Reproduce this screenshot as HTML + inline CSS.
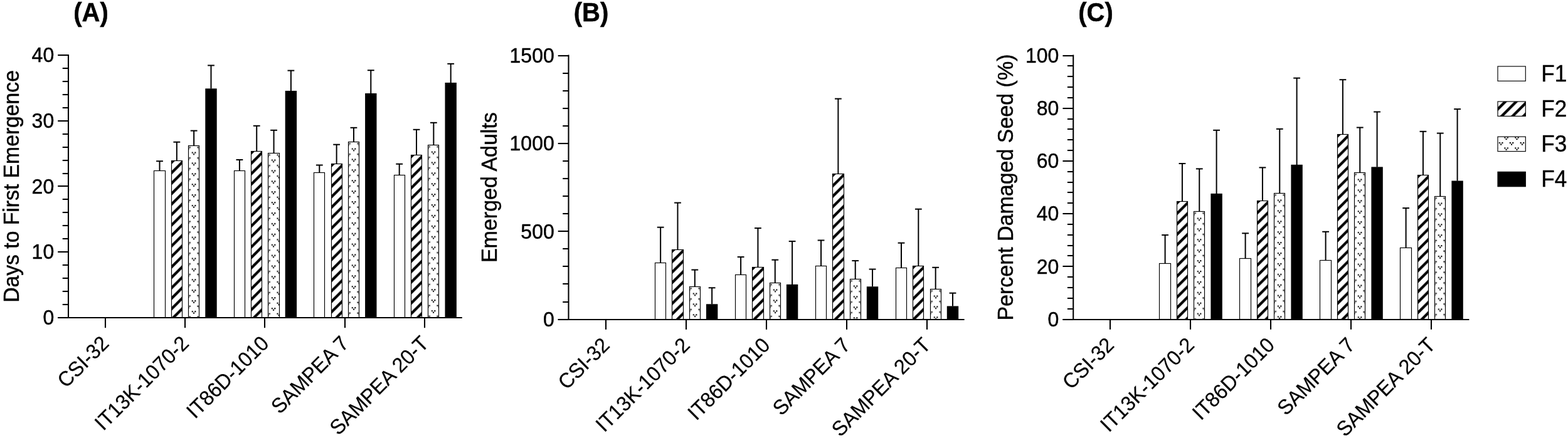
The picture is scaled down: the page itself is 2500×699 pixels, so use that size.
<!DOCTYPE html>
<html><head><meta charset="utf-8"><title>Figure</title>
<style>html,body{margin:0;padding:0;background:#fff;}body{width:2500px;height:699px;overflow:hidden;}svg{display:block;}</style>
</head><body>
<svg width="2500" height="699" viewBox="0 0 2500 699"><defs><pattern id="h1" patternUnits="userSpaceOnUse" x="273" y="256" width="16.7" height="16.7"><polygon points="24,-40 30,-40 -50,40 -56,40"/><polygon points="40.7,-40 46.7,-40 -33.3,40 -39.3,40"/><polygon points="57.4,-40 63.4,-40 -16.6,40 -22.6,40"/><polygon points="74.1,-40 80.1,-40 0.1,40 -5.9,40"/></pattern><pattern id="d2" patternUnits="userSpaceOnUse" x="300.5" y="232.5" width="17.2" height="16.9"><rect x="-3.25" y="1.65" width="2.1" height="2.1"/><rect x="1.15" y="1.65" width="2.1" height="2.1"/><rect x="-1.05" y="4.15" width="2.1" height="2.1"/><rect x="-3.25" y="18.55" width="2.1" height="2.1"/><rect x="1.15" y="18.55" width="2.1" height="2.1"/><rect x="-1.05" y="21.05" width="2.1" height="2.1"/><rect x="13.95" y="1.65" width="2.1" height="2.1"/><rect x="18.35" y="1.65" width="2.1" height="2.1"/><rect x="16.15" y="4.15" width="2.1" height="2.1"/><rect x="13.95" y="18.55" width="2.1" height="2.1"/><rect x="18.35" y="18.55" width="2.1" height="2.1"/><rect x="16.15" y="21.05" width="2.1" height="2.1"/><rect x="5.35" y="10.1" width="2.1" height="2.1"/><rect x="9.75" y="10.1" width="2.1" height="2.1"/><rect x="7.55" y="12.6" width="2.1" height="2.1"/><rect x="5.35" y="-6.8" width="2.1" height="2.1"/><rect x="9.75" y="-6.8" width="2.1" height="2.1"/><rect x="7.55" y="-4.3" width="2.1" height="2.1"/></pattern><pattern id="h3" patternUnits="userSpaceOnUse" x="400" y="241" width="16.7" height="16.7"><polygon points="24,-40 30,-40 -50,40 -56,40"/><polygon points="40.7,-40 46.7,-40 -33.3,40 -39.3,40"/><polygon points="57.4,-40 63.4,-40 -16.6,40 -22.6,40"/><polygon points="74.1,-40 80.1,-40 0.1,40 -5.9,40"/></pattern><pattern id="d4" patternUnits="userSpaceOnUse" x="427.5" y="244.5" width="17.2" height="16.9"><rect x="-3.25" y="1.65" width="2.1" height="2.1"/><rect x="1.15" y="1.65" width="2.1" height="2.1"/><rect x="-1.05" y="4.15" width="2.1" height="2.1"/><rect x="-3.25" y="18.55" width="2.1" height="2.1"/><rect x="1.15" y="18.55" width="2.1" height="2.1"/><rect x="-1.05" y="21.05" width="2.1" height="2.1"/><rect x="13.95" y="1.65" width="2.1" height="2.1"/><rect x="18.35" y="1.65" width="2.1" height="2.1"/><rect x="16.15" y="4.15" width="2.1" height="2.1"/><rect x="13.95" y="18.55" width="2.1" height="2.1"/><rect x="18.35" y="18.55" width="2.1" height="2.1"/><rect x="16.15" y="21.05" width="2.1" height="2.1"/><rect x="5.35" y="10.1" width="2.1" height="2.1"/><rect x="9.75" y="10.1" width="2.1" height="2.1"/><rect x="7.55" y="12.6" width="2.1" height="2.1"/><rect x="5.35" y="-6.8" width="2.1" height="2.1"/><rect x="9.75" y="-6.8" width="2.1" height="2.1"/><rect x="7.55" y="-4.3" width="2.1" height="2.1"/></pattern><pattern id="h5" patternUnits="userSpaceOnUse" x="528" y="261" width="16.7" height="16.7"><polygon points="24,-40 30,-40 -50,40 -56,40"/><polygon points="40.7,-40 46.7,-40 -33.3,40 -39.3,40"/><polygon points="57.4,-40 63.4,-40 -16.6,40 -22.6,40"/><polygon points="74.1,-40 80.1,-40 0.1,40 -5.9,40"/></pattern><pattern id="d6" patternUnits="userSpaceOnUse" x="555.5" y="226.5" width="17.2" height="16.9"><rect x="-3.25" y="1.65" width="2.1" height="2.1"/><rect x="1.15" y="1.65" width="2.1" height="2.1"/><rect x="-1.05" y="4.15" width="2.1" height="2.1"/><rect x="-3.25" y="18.55" width="2.1" height="2.1"/><rect x="1.15" y="18.55" width="2.1" height="2.1"/><rect x="-1.05" y="21.05" width="2.1" height="2.1"/><rect x="13.95" y="1.65" width="2.1" height="2.1"/><rect x="18.35" y="1.65" width="2.1" height="2.1"/><rect x="16.15" y="4.15" width="2.1" height="2.1"/><rect x="13.95" y="18.55" width="2.1" height="2.1"/><rect x="18.35" y="18.55" width="2.1" height="2.1"/><rect x="16.15" y="21.05" width="2.1" height="2.1"/><rect x="5.35" y="10.1" width="2.1" height="2.1"/><rect x="9.75" y="10.1" width="2.1" height="2.1"/><rect x="7.55" y="12.6" width="2.1" height="2.1"/><rect x="5.35" y="-6.8" width="2.1" height="2.1"/><rect x="9.75" y="-6.8" width="2.1" height="2.1"/><rect x="7.55" y="-4.3" width="2.1" height="2.1"/></pattern><pattern id="h7" patternUnits="userSpaceOnUse" x="655" y="247" width="16.7" height="16.7"><polygon points="24,-40 30,-40 -50,40 -56,40"/><polygon points="40.7,-40 46.7,-40 -33.3,40 -39.3,40"/><polygon points="57.4,-40 63.4,-40 -16.6,40 -22.6,40"/><polygon points="74.1,-40 80.1,-40 0.1,40 -5.9,40"/></pattern><pattern id="d8" patternUnits="userSpaceOnUse" x="682.5" y="231.5" width="17.2" height="16.9"><rect x="-3.25" y="1.65" width="2.1" height="2.1"/><rect x="1.15" y="1.65" width="2.1" height="2.1"/><rect x="-1.05" y="4.15" width="2.1" height="2.1"/><rect x="-3.25" y="18.55" width="2.1" height="2.1"/><rect x="1.15" y="18.55" width="2.1" height="2.1"/><rect x="-1.05" y="21.05" width="2.1" height="2.1"/><rect x="13.95" y="1.65" width="2.1" height="2.1"/><rect x="18.35" y="1.65" width="2.1" height="2.1"/><rect x="16.15" y="4.15" width="2.1" height="2.1"/><rect x="13.95" y="18.55" width="2.1" height="2.1"/><rect x="18.35" y="18.55" width="2.1" height="2.1"/><rect x="16.15" y="21.05" width="2.1" height="2.1"/><rect x="5.35" y="10.1" width="2.1" height="2.1"/><rect x="9.75" y="10.1" width="2.1" height="2.1"/><rect x="7.55" y="12.6" width="2.1" height="2.1"/><rect x="5.35" y="-6.8" width="2.1" height="2.1"/><rect x="9.75" y="-6.8" width="2.1" height="2.1"/><rect x="7.55" y="-4.3" width="2.1" height="2.1"/></pattern><pattern id="h9" patternUnits="userSpaceOnUse" x="1071" y="398" width="16.7" height="16.7"><polygon points="24,-40 30,-40 -50,40 -56,40"/><polygon points="40.7,-40 46.7,-40 -33.3,40 -39.3,40"/><polygon points="57.4,-40 63.4,-40 -16.6,40 -22.6,40"/><polygon points="74.1,-40 80.1,-40 0.1,40 -5.9,40"/></pattern><pattern id="d10" patternUnits="userSpaceOnUse" x="1099.5" y="457.5" width="17.2" height="16.9"><rect x="-3.25" y="1.65" width="2.1" height="2.1"/><rect x="1.15" y="1.65" width="2.1" height="2.1"/><rect x="-1.05" y="4.15" width="2.1" height="2.1"/><rect x="-3.25" y="18.55" width="2.1" height="2.1"/><rect x="1.15" y="18.55" width="2.1" height="2.1"/><rect x="-1.05" y="21.05" width="2.1" height="2.1"/><rect x="13.95" y="1.65" width="2.1" height="2.1"/><rect x="18.35" y="1.65" width="2.1" height="2.1"/><rect x="16.15" y="4.15" width="2.1" height="2.1"/><rect x="13.95" y="18.55" width="2.1" height="2.1"/><rect x="18.35" y="18.55" width="2.1" height="2.1"/><rect x="16.15" y="21.05" width="2.1" height="2.1"/><rect x="5.35" y="10.1" width="2.1" height="2.1"/><rect x="9.75" y="10.1" width="2.1" height="2.1"/><rect x="7.55" y="12.6" width="2.1" height="2.1"/><rect x="5.35" y="-6.8" width="2.1" height="2.1"/><rect x="9.75" y="-6.8" width="2.1" height="2.1"/><rect x="7.55" y="-4.3" width="2.1" height="2.1"/></pattern><pattern id="h11" patternUnits="userSpaceOnUse" x="1199" y="426" width="16.7" height="16.7"><polygon points="24,-40 30,-40 -50,40 -56,40"/><polygon points="40.7,-40 46.7,-40 -33.3,40 -39.3,40"/><polygon points="57.4,-40 63.4,-40 -16.6,40 -22.6,40"/><polygon points="74.1,-40 80.1,-40 0.1,40 -5.9,40"/></pattern><pattern id="d12" patternUnits="userSpaceOnUse" x="1227.5" y="451.5" width="17.2" height="16.9"><rect x="-3.25" y="1.65" width="2.1" height="2.1"/><rect x="1.15" y="1.65" width="2.1" height="2.1"/><rect x="-1.05" y="4.15" width="2.1" height="2.1"/><rect x="-3.25" y="18.55" width="2.1" height="2.1"/><rect x="1.15" y="18.55" width="2.1" height="2.1"/><rect x="-1.05" y="21.05" width="2.1" height="2.1"/><rect x="13.95" y="1.65" width="2.1" height="2.1"/><rect x="18.35" y="1.65" width="2.1" height="2.1"/><rect x="16.15" y="4.15" width="2.1" height="2.1"/><rect x="13.95" y="18.55" width="2.1" height="2.1"/><rect x="18.35" y="18.55" width="2.1" height="2.1"/><rect x="16.15" y="21.05" width="2.1" height="2.1"/><rect x="5.35" y="10.1" width="2.1" height="2.1"/><rect x="9.75" y="10.1" width="2.1" height="2.1"/><rect x="7.55" y="12.6" width="2.1" height="2.1"/><rect x="5.35" y="-6.8" width="2.1" height="2.1"/><rect x="9.75" y="-6.8" width="2.1" height="2.1"/><rect x="7.55" y="-4.3" width="2.1" height="2.1"/></pattern><pattern id="h13" patternUnits="userSpaceOnUse" x="1327" y="277" width="16.7" height="16.7"><polygon points="24,-40 30,-40 -50,40 -56,40"/><polygon points="40.7,-40 46.7,-40 -33.3,40 -39.3,40"/><polygon points="57.4,-40 63.4,-40 -16.6,40 -22.6,40"/><polygon points="74.1,-40 80.1,-40 0.1,40 -5.9,40"/></pattern><pattern id="d14" patternUnits="userSpaceOnUse" x="1355.5" y="445.5" width="17.2" height="16.9"><rect x="-3.25" y="1.65" width="2.1" height="2.1"/><rect x="1.15" y="1.65" width="2.1" height="2.1"/><rect x="-1.05" y="4.15" width="2.1" height="2.1"/><rect x="-3.25" y="18.55" width="2.1" height="2.1"/><rect x="1.15" y="18.55" width="2.1" height="2.1"/><rect x="-1.05" y="21.05" width="2.1" height="2.1"/><rect x="13.95" y="1.65" width="2.1" height="2.1"/><rect x="18.35" y="1.65" width="2.1" height="2.1"/><rect x="16.15" y="4.15" width="2.1" height="2.1"/><rect x="13.95" y="18.55" width="2.1" height="2.1"/><rect x="18.35" y="18.55" width="2.1" height="2.1"/><rect x="16.15" y="21.05" width="2.1" height="2.1"/><rect x="5.35" y="10.1" width="2.1" height="2.1"/><rect x="9.75" y="10.1" width="2.1" height="2.1"/><rect x="7.55" y="12.6" width="2.1" height="2.1"/><rect x="5.35" y="-6.8" width="2.1" height="2.1"/><rect x="9.75" y="-6.8" width="2.1" height="2.1"/><rect x="7.55" y="-4.3" width="2.1" height="2.1"/></pattern><pattern id="h15" patternUnits="userSpaceOnUse" x="1455" y="424" width="16.7" height="16.7"><polygon points="24,-40 30,-40 -50,40 -56,40"/><polygon points="40.7,-40 46.7,-40 -33.3,40 -39.3,40"/><polygon points="57.4,-40 63.4,-40 -16.6,40 -22.6,40"/><polygon points="74.1,-40 80.1,-40 0.1,40 -5.9,40"/></pattern><pattern id="d16" patternUnits="userSpaceOnUse" x="1483.5" y="461.5" width="17.2" height="16.9"><rect x="-3.25" y="1.65" width="2.1" height="2.1"/><rect x="1.15" y="1.65" width="2.1" height="2.1"/><rect x="-1.05" y="4.15" width="2.1" height="2.1"/><rect x="-3.25" y="18.55" width="2.1" height="2.1"/><rect x="1.15" y="18.55" width="2.1" height="2.1"/><rect x="-1.05" y="21.05" width="2.1" height="2.1"/><rect x="13.95" y="1.65" width="2.1" height="2.1"/><rect x="18.35" y="1.65" width="2.1" height="2.1"/><rect x="16.15" y="4.15" width="2.1" height="2.1"/><rect x="13.95" y="18.55" width="2.1" height="2.1"/><rect x="18.35" y="18.55" width="2.1" height="2.1"/><rect x="16.15" y="21.05" width="2.1" height="2.1"/><rect x="5.35" y="10.1" width="2.1" height="2.1"/><rect x="9.75" y="10.1" width="2.1" height="2.1"/><rect x="7.55" y="12.6" width="2.1" height="2.1"/><rect x="5.35" y="-6.8" width="2.1" height="2.1"/><rect x="9.75" y="-6.8" width="2.1" height="2.1"/><rect x="7.55" y="-4.3" width="2.1" height="2.1"/></pattern><pattern id="h17" patternUnits="userSpaceOnUse" x="1876" y="321" width="16.7" height="16.7"><polygon points="24,-40 30,-40 -50,40 -56,40"/><polygon points="40.7,-40 46.7,-40 -33.3,40 -39.3,40"/><polygon points="57.4,-40 63.4,-40 -16.6,40 -22.6,40"/><polygon points="74.1,-40 80.1,-40 0.1,40 -5.9,40"/></pattern><pattern id="d18" patternUnits="userSpaceOnUse" x="1903.5" y="337.5" width="17.2" height="16.9"><rect x="-3.25" y="1.65" width="2.1" height="2.1"/><rect x="1.15" y="1.65" width="2.1" height="2.1"/><rect x="-1.05" y="4.15" width="2.1" height="2.1"/><rect x="-3.25" y="18.55" width="2.1" height="2.1"/><rect x="1.15" y="18.55" width="2.1" height="2.1"/><rect x="-1.05" y="21.05" width="2.1" height="2.1"/><rect x="13.95" y="1.65" width="2.1" height="2.1"/><rect x="18.35" y="1.65" width="2.1" height="2.1"/><rect x="16.15" y="4.15" width="2.1" height="2.1"/><rect x="13.95" y="18.55" width="2.1" height="2.1"/><rect x="18.35" y="18.55" width="2.1" height="2.1"/><rect x="16.15" y="21.05" width="2.1" height="2.1"/><rect x="5.35" y="10.1" width="2.1" height="2.1"/><rect x="9.75" y="10.1" width="2.1" height="2.1"/><rect x="7.55" y="12.6" width="2.1" height="2.1"/><rect x="5.35" y="-6.8" width="2.1" height="2.1"/><rect x="9.75" y="-6.8" width="2.1" height="2.1"/><rect x="7.55" y="-4.3" width="2.1" height="2.1"/></pattern><pattern id="h19" patternUnits="userSpaceOnUse" x="2004" y="320" width="16.7" height="16.7"><polygon points="24,-40 30,-40 -50,40 -56,40"/><polygon points="40.7,-40 46.7,-40 -33.3,40 -39.3,40"/><polygon points="57.4,-40 63.4,-40 -16.6,40 -22.6,40"/><polygon points="74.1,-40 80.1,-40 0.1,40 -5.9,40"/></pattern><pattern id="d20" patternUnits="userSpaceOnUse" x="2031.5" y="308.5" width="17.2" height="16.9"><rect x="-3.25" y="1.65" width="2.1" height="2.1"/><rect x="1.15" y="1.65" width="2.1" height="2.1"/><rect x="-1.05" y="4.15" width="2.1" height="2.1"/><rect x="-3.25" y="18.55" width="2.1" height="2.1"/><rect x="1.15" y="18.55" width="2.1" height="2.1"/><rect x="-1.05" y="21.05" width="2.1" height="2.1"/><rect x="13.95" y="1.65" width="2.1" height="2.1"/><rect x="18.35" y="1.65" width="2.1" height="2.1"/><rect x="16.15" y="4.15" width="2.1" height="2.1"/><rect x="13.95" y="18.55" width="2.1" height="2.1"/><rect x="18.35" y="18.55" width="2.1" height="2.1"/><rect x="16.15" y="21.05" width="2.1" height="2.1"/><rect x="5.35" y="10.1" width="2.1" height="2.1"/><rect x="9.75" y="10.1" width="2.1" height="2.1"/><rect x="7.55" y="12.6" width="2.1" height="2.1"/><rect x="5.35" y="-6.8" width="2.1" height="2.1"/><rect x="9.75" y="-6.8" width="2.1" height="2.1"/><rect x="7.55" y="-4.3" width="2.1" height="2.1"/></pattern><pattern id="h21" patternUnits="userSpaceOnUse" x="2132" y="214" width="16.7" height="16.7"><polygon points="24,-40 30,-40 -50,40 -56,40"/><polygon points="40.7,-40 46.7,-40 -33.3,40 -39.3,40"/><polygon points="57.4,-40 63.4,-40 -16.6,40 -22.6,40"/><polygon points="74.1,-40 80.1,-40 0.1,40 -5.9,40"/></pattern><pattern id="d22" patternUnits="userSpaceOnUse" x="2159.5" y="275.5" width="17.2" height="16.9"><rect x="-3.25" y="1.65" width="2.1" height="2.1"/><rect x="1.15" y="1.65" width="2.1" height="2.1"/><rect x="-1.05" y="4.15" width="2.1" height="2.1"/><rect x="-3.25" y="18.55" width="2.1" height="2.1"/><rect x="1.15" y="18.55" width="2.1" height="2.1"/><rect x="-1.05" y="21.05" width="2.1" height="2.1"/><rect x="13.95" y="1.65" width="2.1" height="2.1"/><rect x="18.35" y="1.65" width="2.1" height="2.1"/><rect x="16.15" y="4.15" width="2.1" height="2.1"/><rect x="13.95" y="18.55" width="2.1" height="2.1"/><rect x="18.35" y="18.55" width="2.1" height="2.1"/><rect x="16.15" y="21.05" width="2.1" height="2.1"/><rect x="5.35" y="10.1" width="2.1" height="2.1"/><rect x="9.75" y="10.1" width="2.1" height="2.1"/><rect x="7.55" y="12.6" width="2.1" height="2.1"/><rect x="5.35" y="-6.8" width="2.1" height="2.1"/><rect x="9.75" y="-6.8" width="2.1" height="2.1"/><rect x="7.55" y="-4.3" width="2.1" height="2.1"/></pattern><pattern id="h23" patternUnits="userSpaceOnUse" x="2260" y="279" width="16.7" height="16.7"><polygon points="24,-40 30,-40 -50,40 -56,40"/><polygon points="40.7,-40 46.7,-40 -33.3,40 -39.3,40"/><polygon points="57.4,-40 63.4,-40 -16.6,40 -22.6,40"/><polygon points="74.1,-40 80.1,-40 0.1,40 -5.9,40"/></pattern><pattern id="d24" patternUnits="userSpaceOnUse" x="2287.5" y="313.5" width="17.2" height="16.9"><rect x="-3.25" y="1.65" width="2.1" height="2.1"/><rect x="1.15" y="1.65" width="2.1" height="2.1"/><rect x="-1.05" y="4.15" width="2.1" height="2.1"/><rect x="-3.25" y="18.55" width="2.1" height="2.1"/><rect x="1.15" y="18.55" width="2.1" height="2.1"/><rect x="-1.05" y="21.05" width="2.1" height="2.1"/><rect x="13.95" y="1.65" width="2.1" height="2.1"/><rect x="18.35" y="1.65" width="2.1" height="2.1"/><rect x="16.15" y="4.15" width="2.1" height="2.1"/><rect x="13.95" y="18.55" width="2.1" height="2.1"/><rect x="18.35" y="18.55" width="2.1" height="2.1"/><rect x="16.15" y="21.05" width="2.1" height="2.1"/><rect x="5.35" y="10.1" width="2.1" height="2.1"/><rect x="9.75" y="10.1" width="2.1" height="2.1"/><rect x="7.55" y="12.6" width="2.1" height="2.1"/><rect x="5.35" y="-6.8" width="2.1" height="2.1"/><rect x="9.75" y="-6.8" width="2.1" height="2.1"/><rect x="7.55" y="-4.3" width="2.1" height="2.1"/></pattern><pattern id="h25" patternUnits="userSpaceOnUse" x="2387.4" y="161.43" width="17.4" height="17.4"><polygon points="33,-40 39,-40 -41,40 -47,40"/><polygon points="50.4,-40 56.4,-40 -23.6,40 -29.6,40"/><polygon points="67.8,-40 73.8,-40 -6.2,40 -12.2,40"/><polygon points="85.2,-40 91.2,-40 11.2,40 5.2,40"/></pattern><pattern id="d26" patternUnits="userSpaceOnUse" x="2393.2" y="228.01" width="16.85" height="16.7"><rect x="-3.25" y="-1.05" width="2.1" height="2.1"/><rect x="1.15" y="-1.05" width="2.1" height="2.1"/><rect x="-1.05" y="1.45" width="2.1" height="2.1"/><rect x="-3.25" y="15.65" width="2.1" height="2.1"/><rect x="1.15" y="15.65" width="2.1" height="2.1"/><rect x="-1.05" y="18.15" width="2.1" height="2.1"/><rect x="13.6" y="-1.05" width="2.1" height="2.1"/><rect x="18" y="-1.05" width="2.1" height="2.1"/><rect x="15.8" y="1.45" width="2.1" height="2.1"/><rect x="13.6" y="15.65" width="2.1" height="2.1"/><rect x="18" y="15.65" width="2.1" height="2.1"/><rect x="15.8" y="18.15" width="2.1" height="2.1"/><rect x="5.18" y="7.3" width="2.1" height="2.1"/><rect x="9.57" y="7.3" width="2.1" height="2.1"/><rect x="7.38" y="9.8" width="2.1" height="2.1"/><rect x="5.18" y="-9.4" width="2.1" height="2.1"/><rect x="9.57" y="-9.4" width="2.1" height="2.1"/><rect x="7.38" y="-6.9" width="2.1" height="2.1"/></pattern></defs><rect width="2500" height="699" fill="#fff"/><rect x="245.5" y="272.5" width="18" height="234.4" fill="#fff" stroke="#000" stroke-width="1.15"/><rect x="273.5" y="256.5" width="17" height="250.4" fill="url(#h1)" stroke="#000" stroke-width="1.15"/><rect x="300.5" y="232.5" width="17" height="274.4" fill="url(#d2)" stroke="#000" stroke-width="1.15"/><rect x="327.29" y="141.3" width="18.4" height="365.6" fill="#000"/><rect x="373.5" y="272.5" width="17" height="234.4" fill="#fff" stroke="#000" stroke-width="1.15"/><rect x="400.5" y="241.5" width="17" height="265.4" fill="url(#h3)" stroke="#000" stroke-width="1.15"/><rect x="427.5" y="244.5" width="18" height="262.4" fill="url(#d4)" stroke="#000" stroke-width="1.15"/><rect x="454.69" y="144.9" width="18.4" height="362" fill="#000"/><rect x="500.5" y="275.5" width="17" height="231.4" fill="#fff" stroke="#000" stroke-width="1.15"/><rect x="528.5" y="261.5" width="17" height="245.4" fill="url(#h5)" stroke="#000" stroke-width="1.15"/><rect x="555.5" y="226.5" width="17" height="280.4" fill="url(#d6)" stroke="#000" stroke-width="1.15"/><rect x="582.09" y="148.9" width="18.4" height="358" fill="#000"/><rect x="628.5" y="279.5" width="17" height="227.4" fill="#fff" stroke="#000" stroke-width="1.15"/><rect x="655.5" y="247.5" width="17" height="259.4" fill="url(#h7)" stroke="#000" stroke-width="1.15"/><rect x="682.5" y="231.5" width="17" height="275.4" fill="url(#d8)" stroke="#000" stroke-width="1.15"/><rect x="709.49" y="131.9" width="18.4" height="375" fill="#000"/><rect x="1044.5" y="419.5" width="17" height="90.1" fill="#fff" stroke="#000" stroke-width="1.15"/><rect x="1071.5" y="398.5" width="18" height="111.1" fill="url(#h9)" stroke="#000" stroke-width="1.15"/><rect x="1099.5" y="457.5" width="17" height="52.1" fill="url(#d10)" stroke="#000" stroke-width="1.15"/><rect x="1125.94" y="485.3" width="18.4" height="24.3" fill="#000"/><rect x="1172.5" y="438.5" width="17" height="71.1" fill="#fff" stroke="#000" stroke-width="1.15"/><rect x="1199.5" y="426.5" width="18" height="83.1" fill="url(#h11)" stroke="#000" stroke-width="1.15"/><rect x="1227.5" y="451.5" width="17" height="58.1" fill="url(#d12)" stroke="#000" stroke-width="1.15"/><rect x="1253.89" y="453.9" width="18.4" height="55.7" fill="#000"/><rect x="1300.5" y="424.5" width="17" height="85.1" fill="#fff" stroke="#000" stroke-width="1.15"/><rect x="1327.5" y="277.5" width="18" height="232.1" fill="url(#h13)" stroke="#000" stroke-width="1.15"/><rect x="1355.5" y="445.5" width="17" height="64.1" fill="url(#d14)" stroke="#000" stroke-width="1.15"/><rect x="1381.84" y="457.3" width="18.4" height="52.3" fill="#000"/><rect x="1428.5" y="427.5" width="17" height="82.1" fill="#fff" stroke="#000" stroke-width="1.15"/><rect x="1455.5" y="424.5" width="17" height="85.1" fill="url(#h15)" stroke="#000" stroke-width="1.15"/><rect x="1483.5" y="461.5" width="17" height="48.1" fill="url(#d16)" stroke="#000" stroke-width="1.15"/><rect x="1509.79" y="488.5" width="18.4" height="21.1" fill="#000"/><rect x="1848.5" y="420.5" width="18" height="89" fill="#fff" stroke="#000" stroke-width="1.15"/><rect x="1876.5" y="321.5" width="17" height="188" fill="url(#h17)" stroke="#000" stroke-width="1.15"/><rect x="1903.5" y="337.5" width="17" height="172" fill="url(#d18)" stroke="#000" stroke-width="1.15"/><rect x="1930.39" y="308.9" width="18.4" height="200.6" fill="#000"/><rect x="1976.5" y="412.5" width="18" height="97" fill="#fff" stroke="#000" stroke-width="1.15"/><rect x="2004.5" y="320.5" width="17" height="189" fill="url(#h19)" stroke="#000" stroke-width="1.15"/><rect x="2031.5" y="308.5" width="17" height="201" fill="url(#d20)" stroke="#000" stroke-width="1.15"/><rect x="2058.39" y="262.8" width="18.4" height="246.7" fill="#000"/><rect x="2104.5" y="415.5" width="18" height="94" fill="#fff" stroke="#000" stroke-width="1.15"/><rect x="2132.5" y="214.5" width="17" height="295" fill="url(#h21)" stroke="#000" stroke-width="1.15"/><rect x="2159.5" y="275.5" width="17" height="234" fill="url(#d22)" stroke="#000" stroke-width="1.15"/><rect x="2186.39" y="266.4" width="18.4" height="243.1" fill="#000"/><rect x="2232.5" y="395.5" width="18" height="114" fill="#fff" stroke="#000" stroke-width="1.15"/><rect x="2260.5" y="279.5" width="17" height="230" fill="url(#h23)" stroke="#000" stroke-width="1.15"/><rect x="2287.5" y="313.5" width="17" height="196" fill="url(#d24)" stroke="#000" stroke-width="1.15"/><rect x="2314.39" y="288.5" width="18.4" height="221" fill="#000"/><rect x="2388" y="105.9" width="44.3" height="23.4" fill="#fff" stroke="#000" stroke-width="1.15"/><rect x="2388" y="162.03" width="44.3" height="23.4" fill="url(#h25)" stroke="#000" stroke-width="1.15"/><rect x="2388" y="218.16" width="44.3" height="23.4" fill="url(#d26)" stroke="#000" stroke-width="1.15"/><rect x="2388" y="274.29" width="44.3" height="23.4" fill="#000" stroke="#000" stroke-width="1.15"/><g stroke="#000" fill="none" stroke-linecap="butt"><line x1="109" y1="86.95" x2="109" y2="507.95" stroke-width="2.1"/><line x1="92.2" y1="507" x2="736.8" y2="507" stroke-width="2.1"/><line x1="92.2" y1="507" x2="109" y2="507" stroke-width="2.1"/><line x1="99.7" y1="486" x2="109" y2="486" stroke-width="2.1"/><line x1="99.7" y1="465" x2="109" y2="465" stroke-width="2.1"/><line x1="99.7" y1="444" x2="109" y2="444" stroke-width="2.1"/><line x1="99.7" y1="423" x2="109" y2="423" stroke-width="2.1"/><line x1="92.2" y1="402" x2="109" y2="402" stroke-width="2.1"/><line x1="99.7" y1="381" x2="109" y2="381" stroke-width="2.1"/><line x1="99.7" y1="360" x2="109" y2="360" stroke-width="2.1"/><line x1="99.7" y1="339" x2="109" y2="339" stroke-width="2.1"/><line x1="99.7" y1="318" x2="109" y2="318" stroke-width="2.1"/><line x1="92.2" y1="297" x2="109" y2="297" stroke-width="2.1"/><line x1="99.7" y1="277" x2="109" y2="277" stroke-width="2.1"/><line x1="99.7" y1="256" x2="109" y2="256" stroke-width="2.1"/><line x1="99.7" y1="235" x2="109" y2="235" stroke-width="2.1"/><line x1="99.7" y1="214" x2="109" y2="214" stroke-width="2.1"/><line x1="92.2" y1="193" x2="109" y2="193" stroke-width="2.1"/><line x1="99.7" y1="172" x2="109" y2="172" stroke-width="2.1"/><line x1="99.7" y1="151" x2="109" y2="151" stroke-width="2.1"/><line x1="99.7" y1="130" x2="109" y2="130" stroke-width="2.1"/><line x1="99.7" y1="109" x2="109" y2="109" stroke-width="2.1"/><line x1="92.2" y1="88" x2="109" y2="88" stroke-width="2.1"/><line x1="168" y1="506.9" x2="168" y2="523.2" stroke-width="2.1"/><line x1="295" y1="506.9" x2="295" y2="523.2" stroke-width="2.1"/><line x1="422" y1="506.9" x2="422" y2="523.2" stroke-width="2.1"/><line x1="550" y1="506.9" x2="550" y2="523.2" stroke-width="2.1"/><line x1="677" y1="506.9" x2="677" y2="523.2" stroke-width="2.1"/><line x1="254.5" y1="272.7" x2="254.5" y2="257.2" stroke-width="2"/><line x1="249.1" y1="257.2" x2="259.9" y2="257.2" stroke-width="2"/><line x1="281.83" y1="256" x2="281.83" y2="226.7" stroke-width="2"/><line x1="276.43" y1="226.7" x2="287.23" y2="226.7" stroke-width="2"/><line x1="309.16" y1="232.6" x2="309.16" y2="208.6" stroke-width="2"/><line x1="303.76" y1="208.6" x2="314.56" y2="208.6" stroke-width="2"/><line x1="336.49" y1="141.5" x2="336.49" y2="104.4" stroke-width="2"/><line x1="331.09" y1="104.4" x2="341.89" y2="104.4" stroke-width="2"/><line x1="381.9" y1="272.7" x2="381.9" y2="255" stroke-width="2"/><line x1="376.5" y1="255" x2="387.3" y2="255" stroke-width="2"/><line x1="409.23" y1="241.4" x2="409.23" y2="200.8" stroke-width="2"/><line x1="403.83" y1="200.8" x2="414.63" y2="200.8" stroke-width="2"/><line x1="436.56" y1="244.6" x2="436.56" y2="207.8" stroke-width="2"/><line x1="431.16" y1="207.8" x2="441.96" y2="207.8" stroke-width="2"/><line x1="463.89" y1="145.1" x2="463.89" y2="112.6" stroke-width="2"/><line x1="458.49" y1="112.6" x2="469.29" y2="112.6" stroke-width="2"/><line x1="509.3" y1="275.1" x2="509.3" y2="263.5" stroke-width="2"/><line x1="503.9" y1="263.5" x2="514.7" y2="263.5" stroke-width="2"/><line x1="536.63" y1="261.5" x2="536.63" y2="230.7" stroke-width="2"/><line x1="531.23" y1="230.7" x2="542.03" y2="230.7" stroke-width="2"/><line x1="563.96" y1="226.6" x2="563.96" y2="203.8" stroke-width="2"/><line x1="558.56" y1="203.8" x2="569.36" y2="203.8" stroke-width="2"/><line x1="591.29" y1="149.1" x2="591.29" y2="112.2" stroke-width="2"/><line x1="585.89" y1="112.2" x2="596.69" y2="112.2" stroke-width="2"/><line x1="636.7" y1="279.5" x2="636.7" y2="261.7" stroke-width="2"/><line x1="631.3" y1="261.7" x2="642.1" y2="261.7" stroke-width="2"/><line x1="664.03" y1="247.6" x2="664.03" y2="206.8" stroke-width="2"/><line x1="658.63" y1="206.8" x2="669.43" y2="206.8" stroke-width="2"/><line x1="691.36" y1="231.6" x2="691.36" y2="195.8" stroke-width="2"/><line x1="685.96" y1="195.8" x2="696.76" y2="195.8" stroke-width="2"/><line x1="718.69" y1="132.1" x2="718.69" y2="101.8" stroke-width="2"/><line x1="713.29" y1="101.8" x2="724.09" y2="101.8" stroke-width="2"/><line x1="906.5" y1="87.55" x2="906.5" y2="510.65" stroke-width="2.1"/><line x1="889.7" y1="510" x2="1537.6" y2="510" stroke-width="2.1"/><line x1="889.7" y1="510" x2="906.5" y2="510" stroke-width="2.1"/><line x1="897.2" y1="482" x2="906.5" y2="482" stroke-width="2.1"/><line x1="897.2" y1="453" x2="906.5" y2="453" stroke-width="2.1"/><line x1="897.2" y1="425" x2="906.5" y2="425" stroke-width="2.1"/><line x1="897.2" y1="397" x2="906.5" y2="397" stroke-width="2.1"/><line x1="889.7" y1="369" x2="906.5" y2="369" stroke-width="2.1"/><line x1="897.2" y1="341" x2="906.5" y2="341" stroke-width="2.1"/><line x1="897.2" y1="313" x2="906.5" y2="313" stroke-width="2.1"/><line x1="897.2" y1="285" x2="906.5" y2="285" stroke-width="2.1"/><line x1="897.2" y1="257" x2="906.5" y2="257" stroke-width="2.1"/><line x1="889.7" y1="229" x2="906.5" y2="229" stroke-width="2.1"/><line x1="897.2" y1="201" x2="906.5" y2="201" stroke-width="2.1"/><line x1="897.2" y1="173" x2="906.5" y2="173" stroke-width="2.1"/><line x1="897.2" y1="145" x2="906.5" y2="145" stroke-width="2.1"/><line x1="897.2" y1="117" x2="906.5" y2="117" stroke-width="2.1"/><line x1="889.7" y1="89" x2="906.5" y2="89" stroke-width="2.1"/><line x1="966" y1="509.6" x2="966" y2="525.9" stroke-width="2.1"/><line x1="1094" y1="509.6" x2="1094" y2="525.9" stroke-width="2.1"/><line x1="1222" y1="509.6" x2="1222" y2="525.9" stroke-width="2.1"/><line x1="1350" y1="509.6" x2="1350" y2="525.9" stroke-width="2.1"/><line x1="1478" y1="509.6" x2="1478" y2="525.9" stroke-width="2.1"/><line x1="1053.15" y1="419.5" x2="1053.15" y2="362.7" stroke-width="2"/><line x1="1047.75" y1="362.7" x2="1058.55" y2="362.7" stroke-width="2"/><line x1="1080.48" y1="398.8" x2="1080.48" y2="323.6" stroke-width="2"/><line x1="1075.08" y1="323.6" x2="1085.88" y2="323.6" stroke-width="2"/><line x1="1107.81" y1="457.1" x2="1107.81" y2="430.6" stroke-width="2"/><line x1="1102.41" y1="430.6" x2="1113.21" y2="430.6" stroke-width="2"/><line x1="1135.14" y1="485.5" x2="1135.14" y2="459.3" stroke-width="2"/><line x1="1129.74" y1="459.3" x2="1140.54" y2="459.3" stroke-width="2"/><line x1="1181.1" y1="438.1" x2="1181.1" y2="410.1" stroke-width="2"/><line x1="1175.7" y1="410.1" x2="1186.5" y2="410.1" stroke-width="2"/><line x1="1208.43" y1="426.1" x2="1208.43" y2="364.1" stroke-width="2"/><line x1="1203.03" y1="364.1" x2="1213.83" y2="364.1" stroke-width="2"/><line x1="1235.76" y1="451.1" x2="1235.76" y2="414.7" stroke-width="2"/><line x1="1230.36" y1="414.7" x2="1241.16" y2="414.7" stroke-width="2"/><line x1="1263.09" y1="454.1" x2="1263.09" y2="385.1" stroke-width="2"/><line x1="1257.69" y1="385.1" x2="1268.49" y2="385.1" stroke-width="2"/><line x1="1309.05" y1="424.5" x2="1309.05" y2="383.5" stroke-width="2"/><line x1="1303.65" y1="383.5" x2="1314.45" y2="383.5" stroke-width="2"/><line x1="1336.38" y1="277.8" x2="1336.38" y2="157.6" stroke-width="2"/><line x1="1330.98" y1="157.6" x2="1341.78" y2="157.6" stroke-width="2"/><line x1="1363.71" y1="445.7" x2="1363.71" y2="416.1" stroke-width="2"/><line x1="1358.31" y1="416.1" x2="1369.11" y2="416.1" stroke-width="2"/><line x1="1391.04" y1="457.5" x2="1391.04" y2="429.6" stroke-width="2"/><line x1="1385.64" y1="429.6" x2="1396.44" y2="429.6" stroke-width="2"/><line x1="1437" y1="427.2" x2="1437" y2="387.7" stroke-width="2"/><line x1="1431.6" y1="387.7" x2="1442.4" y2="387.7" stroke-width="2"/><line x1="1464.33" y1="424.2" x2="1464.33" y2="333.7" stroke-width="2"/><line x1="1458.93" y1="333.7" x2="1469.73" y2="333.7" stroke-width="2"/><line x1="1491.66" y1="461.7" x2="1491.66" y2="426.8" stroke-width="2"/><line x1="1486.26" y1="426.8" x2="1497.06" y2="426.8" stroke-width="2"/><line x1="1518.99" y1="488.7" x2="1518.99" y2="467.7" stroke-width="2"/><line x1="1513.59" y1="467.7" x2="1524.39" y2="467.7" stroke-width="2"/><line x1="1711.2" y1="87.55" x2="1711.2" y2="510.55" stroke-width="2.1"/><line x1="1694.4" y1="510" x2="2342.4" y2="510" stroke-width="2.1"/><line x1="1694.4" y1="510" x2="1711.2" y2="510" stroke-width="2.1"/><line x1="1701.9" y1="493" x2="1711.2" y2="493" stroke-width="2.1"/><line x1="1701.9" y1="476" x2="1711.2" y2="476" stroke-width="2.1"/><line x1="1701.9" y1="459" x2="1711.2" y2="459" stroke-width="2.1"/><line x1="1701.9" y1="442" x2="1711.2" y2="442" stroke-width="2.1"/><line x1="1694.4" y1="425" x2="1711.2" y2="425" stroke-width="2.1"/><line x1="1701.9" y1="408" x2="1711.2" y2="408" stroke-width="2.1"/><line x1="1701.9" y1="392" x2="1711.2" y2="392" stroke-width="2.1"/><line x1="1701.9" y1="375" x2="1711.2" y2="375" stroke-width="2.1"/><line x1="1701.9" y1="358" x2="1711.2" y2="358" stroke-width="2.1"/><line x1="1694.4" y1="341" x2="1711.2" y2="341" stroke-width="2.1"/><line x1="1701.9" y1="324" x2="1711.2" y2="324" stroke-width="2.1"/><line x1="1701.9" y1="307" x2="1711.2" y2="307" stroke-width="2.1"/><line x1="1701.9" y1="291" x2="1711.2" y2="291" stroke-width="2.1"/><line x1="1701.9" y1="274" x2="1711.2" y2="274" stroke-width="2.1"/><line x1="1694.4" y1="257" x2="1711.2" y2="257" stroke-width="2.1"/><line x1="1701.9" y1="240" x2="1711.2" y2="240" stroke-width="2.1"/><line x1="1701.9" y1="223" x2="1711.2" y2="223" stroke-width="2.1"/><line x1="1701.9" y1="206" x2="1711.2" y2="206" stroke-width="2.1"/><line x1="1701.9" y1="190" x2="1711.2" y2="190" stroke-width="2.1"/><line x1="1694.4" y1="173" x2="1711.2" y2="173" stroke-width="2.1"/><line x1="1701.9" y1="156" x2="1711.2" y2="156" stroke-width="2.1"/><line x1="1701.9" y1="139" x2="1711.2" y2="139" stroke-width="2.1"/><line x1="1701.9" y1="122" x2="1711.2" y2="122" stroke-width="2.1"/><line x1="1701.9" y1="105" x2="1711.2" y2="105" stroke-width="2.1"/><line x1="1694.4" y1="89" x2="1711.2" y2="89" stroke-width="2.1"/><line x1="1770" y1="509.5" x2="1770" y2="525.8" stroke-width="2.1"/><line x1="1898" y1="509.5" x2="1898" y2="525.8" stroke-width="2.1"/><line x1="2026" y1="509.5" x2="2026" y2="525.8" stroke-width="2.1"/><line x1="2154" y1="509.5" x2="2154" y2="525.8" stroke-width="2.1"/><line x1="2282" y1="509.5" x2="2282" y2="525.8" stroke-width="2.1"/><line x1="1857.6" y1="420.5" x2="1857.6" y2="375.1" stroke-width="2"/><line x1="1852.2" y1="375.1" x2="1863" y2="375.1" stroke-width="2"/><line x1="1884.93" y1="321.7" x2="1884.93" y2="261" stroke-width="2"/><line x1="1879.53" y1="261" x2="1890.33" y2="261" stroke-width="2"/><line x1="1912.26" y1="337.6" x2="1912.26" y2="269.4" stroke-width="2"/><line x1="1906.86" y1="269.4" x2="1917.66" y2="269.4" stroke-width="2"/><line x1="1939.59" y1="309.1" x2="1939.59" y2="207.8" stroke-width="2"/><line x1="1934.19" y1="207.8" x2="1944.99" y2="207.8" stroke-width="2"/><line x1="1985.6" y1="412.1" x2="1985.6" y2="372.3" stroke-width="2"/><line x1="1980.2" y1="372.3" x2="1991" y2="372.3" stroke-width="2"/><line x1="2012.93" y1="320.5" x2="2012.93" y2="267.4" stroke-width="2"/><line x1="2007.53" y1="267.4" x2="2018.33" y2="267.4" stroke-width="2"/><line x1="2040.26" y1="308.5" x2="2040.26" y2="205.8" stroke-width="2"/><line x1="2034.86" y1="205.8" x2="2045.66" y2="205.8" stroke-width="2"/><line x1="2067.59" y1="263" x2="2067.59" y2="124.6" stroke-width="2"/><line x1="2062.19" y1="124.6" x2="2072.99" y2="124.6" stroke-width="2"/><line x1="2113.6" y1="415.1" x2="2113.6" y2="369.8" stroke-width="2"/><line x1="2108.2" y1="369.8" x2="2119" y2="369.8" stroke-width="2"/><line x1="2140.93" y1="214.6" x2="2140.93" y2="127.2" stroke-width="2"/><line x1="2135.53" y1="127.2" x2="2146.33" y2="127.2" stroke-width="2"/><line x1="2168.26" y1="275.7" x2="2168.26" y2="203.5" stroke-width="2"/><line x1="2162.86" y1="203.5" x2="2173.66" y2="203.5" stroke-width="2"/><line x1="2195.59" y1="266.6" x2="2195.59" y2="178.5" stroke-width="2"/><line x1="2190.19" y1="178.5" x2="2200.99" y2="178.5" stroke-width="2"/><line x1="2241.6" y1="395" x2="2241.6" y2="332.1" stroke-width="2"/><line x1="2236.2" y1="332.1" x2="2247" y2="332.1" stroke-width="2"/><line x1="2268.93" y1="279.5" x2="2268.93" y2="209.8" stroke-width="2"/><line x1="2263.53" y1="209.8" x2="2274.33" y2="209.8" stroke-width="2"/><line x1="2296.26" y1="313.5" x2="2296.26" y2="212.6" stroke-width="2"/><line x1="2290.86" y1="212.6" x2="2301.66" y2="212.6" stroke-width="2"/><line x1="2323.59" y1="288.7" x2="2323.59" y2="174.1" stroke-width="2"/><line x1="2318.19" y1="174.1" x2="2328.99" y2="174.1" stroke-width="2"/></g><g stroke="#000" fill="none"></g><g font-family="'Liberation Sans', Arial, sans-serif" fill="#000" stroke="#000"><text transform="translate(86.2 518.2) scale(1 1.04)" font-size="32" text-anchor="end" stroke-width="0.45">0</text><text transform="translate(86.2 413.47) scale(1 1.04)" font-size="32" text-anchor="end" stroke-width="0.45">10</text><text transform="translate(86.2 308.75) scale(1 1.04)" font-size="32" text-anchor="end" stroke-width="0.45">20</text><text transform="translate(86.2 204.03) scale(1 1.04)" font-size="32" text-anchor="end" stroke-width="0.45">30</text><text transform="translate(86.2 99.3) scale(1 1.04)" font-size="32" text-anchor="end" stroke-width="0.45">40</text><text transform="translate(175.7 550.1) rotate(-45) scale(1 1.04)" font-size="32" text-anchor="end" stroke-width="0.2">CSI-32</text><text transform="translate(303.1 550.1) rotate(-45) scale(1 1.04)" font-size="32" text-anchor="end" stroke-width="0.2">IT13K-1070-2</text><text transform="translate(430.5 550.1) rotate(-45) scale(1 1.04)" font-size="32" text-anchor="end" stroke-width="0.2">IT86D-1010</text><text transform="translate(557.9 550.1) rotate(-45) scale(1 1.04)" font-size="32" text-anchor="end" stroke-width="0.2">SAMPEA 7</text><text transform="translate(685.3 550.1) rotate(-45) scale(1 1.04)" font-size="32" text-anchor="end" stroke-width="0.2">SAMPEA 20-T</text><text transform="translate(30.3 297.45) rotate(-90) scale(1 1.04)" font-size="33.7" text-anchor="middle" stroke-width="0.45">Days to First Emergence</text><text transform="translate(883.7 520.9) scale(1 1.04)" font-size="32" text-anchor="end" stroke-width="0.45">0</text><text transform="translate(883.7 380.57) scale(1 1.04)" font-size="32" text-anchor="end" stroke-width="0.45">500</text><text transform="translate(883.7 240.23) scale(1 1.04)" font-size="32" text-anchor="end" stroke-width="0.45">1000</text><text transform="translate(883.7 99.9) scale(1 1.04)" font-size="32" text-anchor="end" stroke-width="0.45">1500</text><text transform="translate(973.8 552.8) rotate(-45) scale(1 1.04)" font-size="32" text-anchor="end" stroke-width="0.2">CSI-32</text><text transform="translate(1101.75 552.8) rotate(-45) scale(1 1.04)" font-size="32" text-anchor="end" stroke-width="0.2">IT13K-1070-2</text><text transform="translate(1229.7 552.8) rotate(-45) scale(1 1.04)" font-size="32" text-anchor="end" stroke-width="0.2">IT86D-1010</text><text transform="translate(1357.65 552.8) rotate(-45) scale(1 1.04)" font-size="32" text-anchor="end" stroke-width="0.2">SAMPEA 7</text><text transform="translate(1485.6 552.8) rotate(-45) scale(1 1.04)" font-size="32" text-anchor="end" stroke-width="0.2">SAMPEA 20-T</text><text transform="translate(791.8 299.1) rotate(-90) scale(1 1.04)" font-size="34" text-anchor="middle" stroke-width="0.45">Emerged Adults</text><text transform="translate(1688.4 520.8) scale(1 1.04)" font-size="32" text-anchor="end" stroke-width="0.45">0</text><text transform="translate(1688.4 436.62) scale(1 1.04)" font-size="32" text-anchor="end" stroke-width="0.45">20</text><text transform="translate(1688.4 352.44) scale(1 1.04)" font-size="32" text-anchor="end" stroke-width="0.45">40</text><text transform="translate(1688.4 268.26) scale(1 1.04)" font-size="32" text-anchor="end" stroke-width="0.45">60</text><text transform="translate(1688.4 184.08) scale(1 1.04)" font-size="32" text-anchor="end" stroke-width="0.45">80</text><text transform="translate(1688.4 99.9) scale(1 1.04)" font-size="32" text-anchor="end" stroke-width="0.45">100</text><text transform="translate(1778.2 552.7) rotate(-45) scale(1 1.04)" font-size="32" text-anchor="end" stroke-width="0.2">CSI-32</text><text transform="translate(1906.2 552.7) rotate(-45) scale(1 1.04)" font-size="32" text-anchor="end" stroke-width="0.2">IT13K-1070-2</text><text transform="translate(2034.2 552.7) rotate(-45) scale(1 1.04)" font-size="32" text-anchor="end" stroke-width="0.2">IT86D-1010</text><text transform="translate(2162.2 552.7) rotate(-45) scale(1 1.04)" font-size="32" text-anchor="end" stroke-width="0.2">SAMPEA 7</text><text transform="translate(2290.2 552.7) rotate(-45) scale(1 1.04)" font-size="32" text-anchor="end" stroke-width="0.2">SAMPEA 20-T</text><text transform="translate(1615.3 299.05) rotate(-90) scale(1 1.04)" font-size="34" text-anchor="middle" stroke-width="0.45">Percent Damaged Seed (%)</text><text transform="translate(117.3 34) scale(1 1.04)" font-size="40" font-weight="bold" stroke-width="0.45">(A)</text><text transform="translate(914.7 34) scale(1 1.04)" font-size="40" font-weight="bold" stroke-width="0.45">(B)</text><text transform="translate(1719.3 34) scale(1 1.04)" font-size="40" font-weight="bold" stroke-width="0.45">(C)</text><text transform="translate(2457.3 129.55) scale(1 1.04)" font-size="35" stroke-width="0.45">F1</text><text transform="translate(2457.3 185.68) scale(1 1.04)" font-size="35" stroke-width="0.45">F2</text><text transform="translate(2457.3 241.81) scale(1 1.04)" font-size="35" stroke-width="0.45">F3</text><text transform="translate(2457.3 297.94) scale(1 1.04)" font-size="35" stroke-width="0.45">F4</text></g></svg>
</body></html>
